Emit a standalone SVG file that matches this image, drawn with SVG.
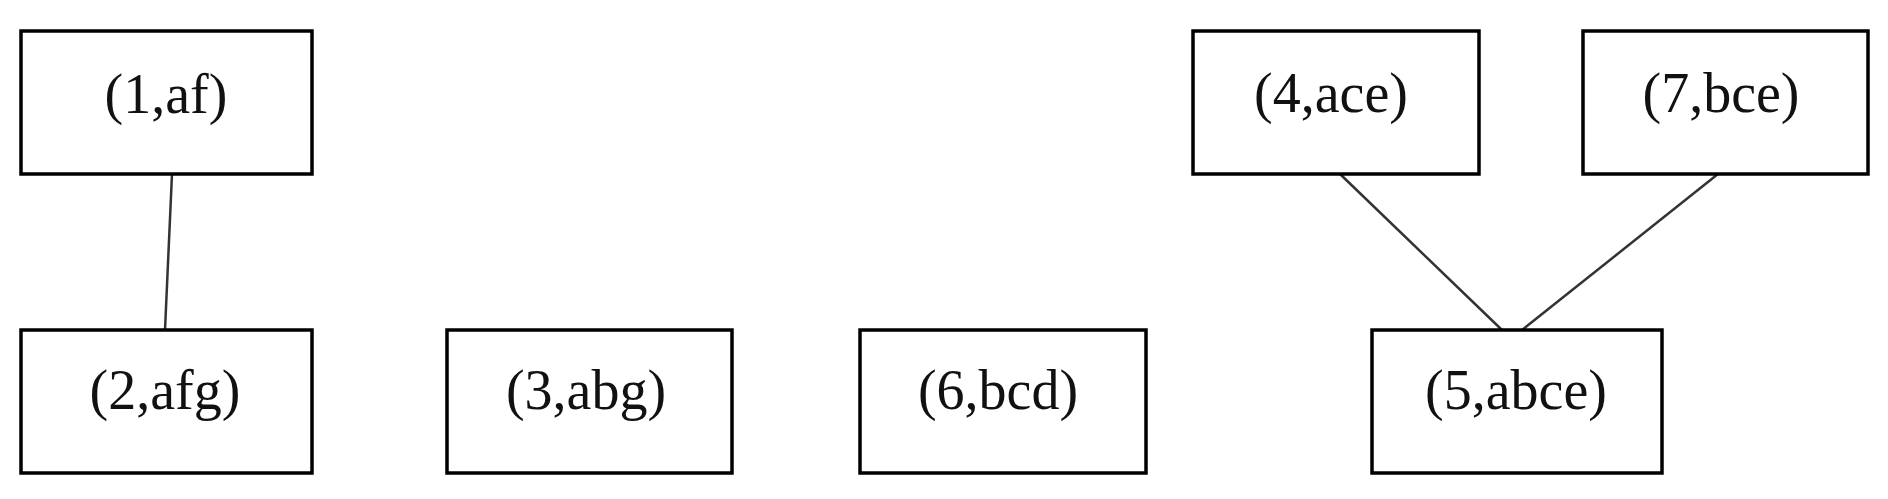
<svg xmlns="http://www.w3.org/2000/svg" width="1888" height="499" viewBox="0 0 1888 499">
  <style>
    .box { fill: #ffffff; stroke: #000000; stroke-width: 3.5; }
    .lbl { font-family: "Liberation Serif", "Times New Roman", serif; font-size: 56px; fill: #111111; text-anchor: middle; }
    .edge { stroke: #333333; stroke-width: 2.5; fill: none; }
  </style>
  <rect x="0" y="0" width="1888" height="499" fill="#ffffff"/>
  <g id="connectors">
    <line class="edge" x1="172" y1="174" x2="165" y2="330"/>
    <line class="edge" x1="1340" y1="174" x2="1502" y2="330"/>
    <line class="edge" x1="1718" y1="174" x2="1522" y2="330"/>
  </g>
  <g id="node1">
    <rect class="box" x="21" y="31" width="291" height="143"/>
    <text class="lbl" x="166" y="113">(1,af)</text>
  </g>
  <g id="node2">
    <rect class="box" x="21" y="330" width="291" height="143"/>
    <text class="lbl" x="165" y="409">(2,afg)</text>
  </g>
  <g id="node3">
    <rect class="box" x="447" y="330" width="285" height="143"/>
    <text class="lbl" x="586" y="409">(3,abg)</text>
  </g>
  <g id="node6">
    <rect class="box" x="860" y="330" width="286" height="143"/>
    <text class="lbl" x="998" y="409">(6,bcd)</text>
  </g>
  <g id="node4">
    <rect class="box" x="1193" y="31" width="286" height="143"/>
    <text class="lbl" x="1331" y="112">(4,ace)</text>
  </g>
  <g id="node7">
    <rect class="box" x="1583" y="31" width="285" height="143"/>
    <text class="lbl" x="1721" y="112">(7,bce)</text>
  </g>
  <g id="node5">
    <rect class="box" x="1372" y="330" width="290" height="143"/>
    <text class="lbl" x="1516" y="409">(5,abce)</text>
  </g>
</svg>
